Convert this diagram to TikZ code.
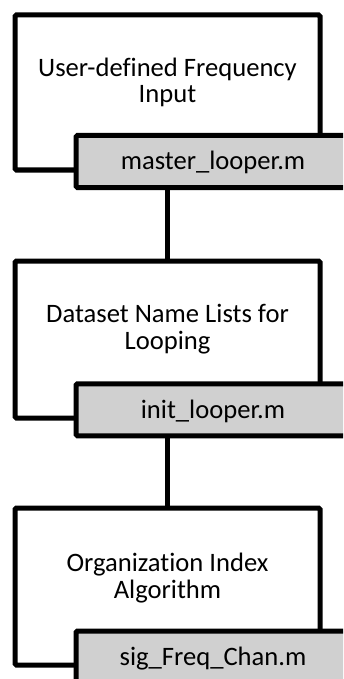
\documentclass[tikz,border=0pt]{standalone}
\usepackage{fontspec}
\setmainfont{Carlito}[Ligatures={NoCommon}]
\definecolor{labelgray}{RGB}{208,208,208}
\begin{document}
\begin{tikzpicture}[x=1pt,y=-1pt,
  mainbox/.style={draw,line width=5pt,fill=white,minimum width=305pt,inner sep=0pt,rounded corners=1.5pt},
  codebox/.style={draw,line width=5pt,fill=labelgray,minimum width=274pt,minimum height=52pt,inner sep=0pt,rounded corners=1.5pt},
  desc/.style={font=\fontsize{26.6}{26.5}\selectfont,align=center,anchor=base,inner sep=0pt},
  codetext/.style={font=\fontsize{26.6}{27}\selectfont,anchor=base,inner sep=0pt},
  link/.style={line width=5pt}]
\useasboundingbox (0,0) rectangle (343,679);
\clip (0,0) rectangle (343,679);

\node[mainbox,minimum height=155pt] (b1) at (167.5,92.5) {};
\node[mainbox,minimum height=157pt] (b2) at (167.5,339.5) {};
\node[mainbox,minimum height=157pt] (b3) at (167.5,586.5) {};

\node[desc] (d1) at (167.5,103) {User-defined Frequency\\Input};
\node[desc] (d2) at (167.5,349) {Dataset Name Lists for\\Looping};
\node[desc] (d3) at (167.5,598) {Organization Index\\Algorithm};

\node[codebox] (g1) at (213,161.5) {};
\node[codebox] (g2) at (213,409.75) {};
\node[codebox] (g3) at (213,657) {};

\node[codetext] (t1) at (213,170) {master\_looper.m};
\node[codetext] (t2) at (213,418) {init\_looper.m};
\node[codetext] (t3) at (213,665) {sig\_Freq\_Chan.m};

\draw[link] (b2.north) -- (b2.north |- g1.south);
\draw[link] (b3.north) -- (b3.north |- g2.south);
\end{tikzpicture}
\end{document}
